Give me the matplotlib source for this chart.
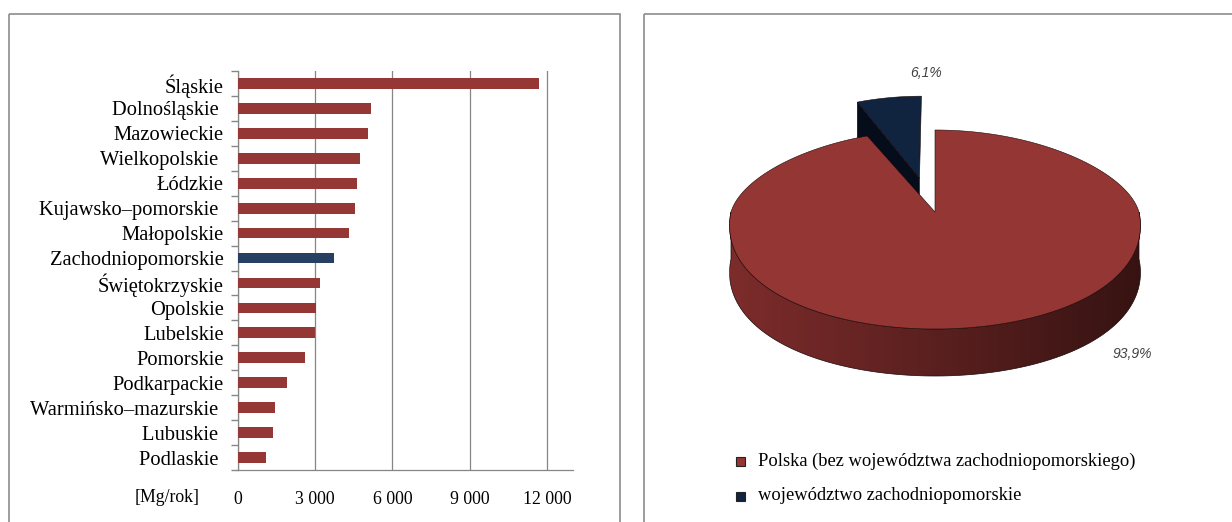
import numpy as np
import matplotlib
matplotlib.use('Agg')
import matplotlib.pyplot as plt
from matplotlib.patches import Polygon, Rectangle
from matplotlib.colors import LinearSegmentedColormap

plt.rcParams['font.family'] = ['Liberation Serif', 'DejaVu Serif']

# emisja wg województw [Mg/rok]
regions = ['Śląskie', 'Dolnośląskie ', 'Mazowieckie', 'Wielkopolskie ', 'Łódzkie',
           'Kujawsko–pomorskie ', 'Małopolskie', 'Zachodniopomorskie', 'Świętokrzyskie',
           'Opolskie', 'Lubelskie', 'Pomorskie', 'Podkarpackie', 'Warmińsko–mazurskie ',
           'Lubuskie ', 'Podlaskie ']
emissions = [11700, 5170, 5060, 4750, 4630, 4540, 4330, 3730, 3190,
             3040, 2990, 2610, 1920, 1450, 1390, 1120]
highlight = 'Zachodniopomorskie'
x_ticks = [0, 3000, 6000, 9000, 12000]
x_ticklabels = ['0', '3 000', '6 000', '9 000', '12 000']

pie_labels = ['Polska (bez województwa zachodniopomorskiego)', 'województwo zachodniopomorskie']
pie_shares = [93.9, 6.1]
pie_explode = [0.0, 0.42]

W, H = 1232, 522
fig = plt.figure(figsize=(W / 100, H / 100), dpi=100)
fig.patch.set_facecolor('white')

grey = '#868686'
red = '#953735'
navy = '#254061'

# canvas in pixel units for frames and the 3D pie
ax2 = fig.add_axes([0, 0, 1, 1])
ax2.set_xlim(0, W)
ax2.set_ylim(H, 0)
ax2.axis('off')
ax2.add_patch(Rectangle((8.5, 13.5), 611, 600, fill=False, ec='#8c8c8c', lw=1.2))
ax2.add_patch(Rectangle((643.5, 13.5), 700, 600, fill=False, ec='#8c8c8c', lw=1.2))

# ---- bar chart ----
ax1 = fig.add_axes([237.5 / W, (H - 470) / H, (573 - 237.5) / W, (470 - 71) / H])
y = np.arange(len(regions))
colors = [navy if r.strip() == highlight else red for r in regions]
ax1.barh(y, emissions, height=0.43, color=colors, zorder=3)
ax1.set_xlim(0, 13000)
ax1.set_ylim(len(regions) - 0.5, -0.5)
ax1.set_xticks(x_ticks)
ax1.set_xticklabels(x_ticklabels, fontsize=12.8)
ax1.set_yticks(y)
ax1.set_yticklabels(regions, fontsize=14.8)
ax1.set_yticks(np.arange(len(regions) + 1) - 0.5, minor=True)
ax1.tick_params(axis='y', which='major', length=0, pad=10)
ax1.tick_params(axis='y', which='minor', length=5, color=grey, width=1)
ax1.tick_params(axis='x', length=0, pad=15)
ax1.grid(axis='x', color=grey, lw=0.9, zorder=0)
for s in ['top', 'right']:
    ax1.spines[s].set_visible(False)
for s in ['left', 'bottom']:
    ax1.spines[s].set_color(grey)
    ax1.spines[s].set_linewidth(0.9)
fig.text(167 / W, 1 - 497 / H, '[Mg/rok]', fontsize=12.8, ha='center', va='center')

# ---- 3D pie ----
cx, cy = 935, 212
a, b_far, b_near = 204, 82, 117
persp = 0.12        # far edge drawn a little narrower
depth = 47
top_colors = ['#943634', '#10233f']
face_colors = ['#3a1515', '#050d1a']


def proj(u, v):
    u = np.asarray(u, float)
    v = np.asarray(v, float)
    return cx + a * u * (1 - persp * v), cy - np.where(v > 0, b_far, b_near) * v


fracs = np.array(pie_shares) / sum(pie_shares)
slices = []
start = 90.0
for i, f in enumerate(fracs):
    t0, t1 = start, start - 360 * f
    start = t1
    mid = np.radians((t0 + t1) / 2)
    du, dv = pie_explode[i] * np.cos(mid), pie_explode[i] * np.sin(mid)
    slices.append((i, t0, t1, du, dv, np.sin(mid)))

side_cmap = LinearSegmentedColormap.from_list('side', ['#7c2c2b', '#5a201f', '#361312'])
edge = '#1b0808'

for i, t0, t1, du, dv, smid in sorted(slices, key=lambda s: -s[5]):
    tx, ty = proj(du, dv)
    # radial cut faces facing the viewer
    for t_edge, n_ang in [(t0, t0 + 90), (t1, t1 - 90)]:
        if pie_explode[i] > 0 and np.sin(np.radians(n_ang)) < -1e-6:
            ex, ey = proj(du + np.cos(np.radians(t_edge)), dv + np.sin(np.radians(t_edge)))
            ax2.add_patch(Polygon([(tx, ty), (ex, ey), (ex, ey + depth), (tx, ty + depth)],
                                  closed=True, fc=face_colors[i], ec=edge, lw=0.4))
    # front wall
    lo, hi = max(t1, -180), min(t0, 0)
    if lo < hi:
        t = np.radians(np.linspace(hi, lo, 200))
        px, py = proj(du + np.cos(t), dv + np.sin(t))
        pts = np.r_[np.c_[px, py], np.c_[px[::-1], py[::-1] + depth]]
        wall = Polygon(pts, closed=True, fc='none', ec=edge, lw=0.5, zorder=2)
        ax2.add_patch(wall)
        grad = np.linspace(0, 1, 256)[None, :]
        im = ax2.imshow(grad, cmap=side_cmap, aspect='auto', zorder=1.5,
                        extent=(px.min(), px.max(), py.max() + depth, py.min()))
        im.set_clip_path(wall)
    # top face
    t = np.radians(np.linspace(t0, t1, 300))
    px, py = proj(du + np.cos(t), dv + np.sin(t))
    pts = np.r_[[(tx, ty)], np.c_[px, py], [(tx, ty)]]
    ax2.add_patch(Polygon(pts, closed=True, fc=top_colors[i], ec=edge, lw=0.4, zorder=3))

ax2.set_xlim(0, W)
ax2.set_ylim(H, 0)

label_pos = [(1132, 354), (926, 73)]
for share, (lx, ly) in zip(pie_shares, label_pos):
    ax2.text(lx, ly, f'{share:.1f}%'.replace('.', ','), fontsize=10, style='italic',
             color='#404040', ha='center', va='center', family=['Liberation Sans', 'DejaVu Sans'])

# legend
for k, (lab, col) in enumerate(zip(pie_labels, top_colors)):
    ly = 461 + 35 * k
    ax2.add_patch(Rectangle((735.5, ly - 4.5), 9, 9, fc=col, ec='#222222', lw=0.8))
    ax2.text(758, ly, lab, fontsize=13.3, va='center', ha='left')

fig.savefig('out.png', dpi=100, facecolor='white')
